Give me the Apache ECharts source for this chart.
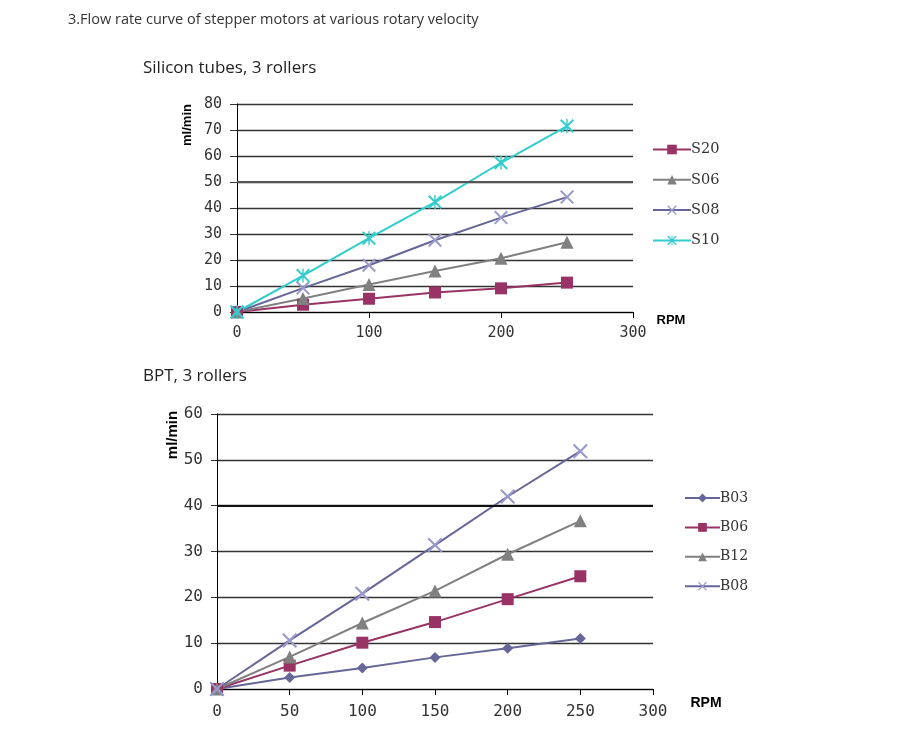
<!DOCTYPE html>
<html><head><meta charset="utf-8">
<script src="https://cdn.jsdelivr.net/npm/echarts@6.0.0/dist/echarts.min.js"></script>
<style>html,body{margin:0;padding:0;background:#fff}#c{width:920px;height:740px}</style>
</head><body><div id="c"></div>
<script>
// ---- data ----
const rpm = [0, 50, 100, 150, 200, 250];
const siliconNames = ['S20', 'S06', 'S08', 'S10'];
const s20 = [0, 2.8, 5.1, 7.5, 9.1, 11.3];
const s06 = [0, 5.2, 10.6, 15.8, 20.7, 26.8];
const s08 = [0, 9.2, 18.0, 27.6, 36.3, 44.2];
const s10 = [0, 14.0, 28.4, 42.3, 57.4, 71.5];
const bptNames = ['B03', 'B06', 'B12', 'B08'];
const b03 = [0, 2.5, 4.6, 6.9, 8.9, 11.0];
const b06 = [0, 5.1, 10.1, 14.6, 19.6, 24.6];
const b12 = [0, 7.0, 14.4, 21.4, 29.4, 36.7];
const b08 = [0, 10.6, 20.8, 31.4, 42.0, 51.9];
const mainTitle = '3.Flow rate curve of stepper motors at various rotary velocity';
const topTitle = 'Silicon tubes, 3 rollers';
const bottomTitle = 'BPT, 3 rollers';
const yName = 'ml/min';
const xName = 'RPM';
const topHeavyGrid = 50;
const bottomHeavyGrid = 40;

// ---- styling ----
const MAROON = '#993366', GRAY = '#808080', SLATE = '#666699', LAV = '#9999cc', CYAN = '#33cccc';
const X_SYM = 'path://M0,1L1,0L10,9L9,10Z M9,0L10,1L1,10L0,9Z';
const AST_SYM = 'path://M0,1L1,0L10,9L9,10Z M9,0L10,1L1,10L0,9Z M4.5,0L5.5,0L5.5,10L4.5,10Z';
const pts = v => rpm.map((x, i) => [x, v[i]]);
const tickFont = {fontFamily: 'DejaVu Sans Mono', color: '#333'};

function ser(name, data, idx, color, symbol, size, symColor) {
  return {
    name, type: 'line', xAxisIndex: idx, yAxisIndex: idx,
    data: pts(data), symbol, symbolSize: size, showSymbol: true,
    lineStyle: {color, width: 2},
    itemStyle: {color: symColor || color},
    emphasis: {disabled: true}, animation: false, z: 3
  };
}
function heavy(idx, y, color) {
  return {
    type: 'line', xAxisIndex: idx, yAxisIndex: idx, data: [], silent: true, z: 1,
    markLine: {silent: true, symbol: 'none', label: {show: false}, animation: false,
      lineStyle: {color, width: 2.2, type: 'solid'}, data: [{yAxis: y}]}
  };
}

const chart = echarts.init(document.getElementById('c'), null, {renderer: 'canvas'});
const axisLineBlack = {show: true, lineStyle: {color: '#000', width: 1}};
const gridLine = {show: true, lineStyle: {color: '#333', width: 1.3}};
const legendText = {fontFamily: 'DejaVu Serif', fontSize: 14.5, color: '#333', padding: [0, 0, 0, -5]};
const option = {
  animation: false,
  backgroundColor: '#fff',
  grid: [
    {left: 237, top: 104, width: 396, height: 208},
    {left: 217, top: 414, width: 436, height: 275}
  ],
  xAxis: [
    {type: 'value', gridIndex: 0, min: 0, max: 300, interval: 100,
     axisLine: {show: true, onZero: false, lineStyle: {color: '#000'}},
     axisTick: {show: true, length: 6, lineStyle: {color: '#000'}},
     axisLabel: {...tickFont, fontSize: 15, margin: 14},
     splitLine: {show: false}},
    {type: 'value', gridIndex: 1, min: 0, max: 300, interval: 50,
     axisLine: {show: true, onZero: false, lineStyle: {color: '#000'}},
     axisTick: {show: true, length: 6, lineStyle: {color: '#000'}},
     axisLabel: {...tickFont, fontSize: 16, margin: 15},
     splitLine: {show: false}}
  ],
  yAxis: [
    {type: 'value', gridIndex: 0, min: 0, max: 80, interval: 10,
     axisLine: axisLineBlack,
     axisTick: {show: true, length: 7, lineStyle: {color: '#333'}},
     axisLabel: {...tickFont, fontSize: 15, margin: 15},
     splitLine: gridLine},
    {type: 'value', gridIndex: 1, min: 0, max: 60, interval: 10,
     axisLine: axisLineBlack,
     axisTick: {show: true, length: 6, lineStyle: {color: '#333'}},
     axisLabel: {...tickFont, fontSize: 16, margin: 14},
     splitLine: gridLine}
  ],
  legend: [
    {data: siliconNames, orient: 'vertical', left: 647, top: 137,
     itemWidth: 38, itemHeight: 12, itemGap: 15.3,
     textStyle: legendText, selectedMode: false},
    {data: bptNames, orient: 'vertical', left: 679, top: 486,
     itemWidth: 35, itemHeight: 11, itemGap: 15.4,
     textStyle: {...legendText, fontSize: 14}, selectedMode: false}
  ],
  series: [
    heavy(0, topHeavyGrid, '#555'),
    heavy(1, bottomHeavyGrid, '#111'),
    ser('S20', s20, 0, MAROON, 'rect', 12),
    ser('S06', s06, 0, GRAY, 'triangle', 13),
    ser('S08', s08, 0, SLATE, X_SYM, 14, LAV),
    ser('S10', s10, 0, CYAN, AST_SYM, 14),
    ser('B03', b03, 1, SLATE, 'diamond', 11),
    ser('B06', b06, 1, MAROON, 'rect', 12),
    ser('B12', b12, 1, GRAY, 'triangle', 13),
    ser('B08', b08, 1, SLATE, X_SYM, 15, LAV)
  ],
  graphic: [
    {type: 'text', left: 68, top: 12, style: {text: mainTitle, font: '14.5px "Open Sans"', fill: '#333'}},
    {type: 'text', left: 143, top: 60, style: {text: topTitle, font: '17px "Open Sans"', fill: '#222'}},
    {type: 'text', left: 143, top: 368, style: {text: bottomTitle, font: '17px "Open Sans"', fill: '#222'}},
    {type: 'text', x: 187, y: 125, rotation: Math.PI / 2,
     style: {text: yName, font: 'bold 13px "Liberation Sans"', fill: '#000', align: 'center', verticalAlign: 'middle'}},
    {type: 'text', x: 173, y: 435, rotation: Math.PI / 2,
     style: {text: yName, font: 'bold 15px "Liberation Sans"', fill: '#000', align: 'center', verticalAlign: 'middle'}},
    {type: 'text', x: 671, y: 320,
     style: {text: xName, font: 'bold 13px "Liberation Sans"', fill: '#000', align: 'center', verticalAlign: 'middle'}},
    {type: 'text', x: 706, y: 703,
     style: {text: xName, font: 'bold 14px "Liberation Sans"', fill: '#000', align: 'center', verticalAlign: 'middle'}}
  ]
};
chart.setOption(option);
</script>
</body></html>
